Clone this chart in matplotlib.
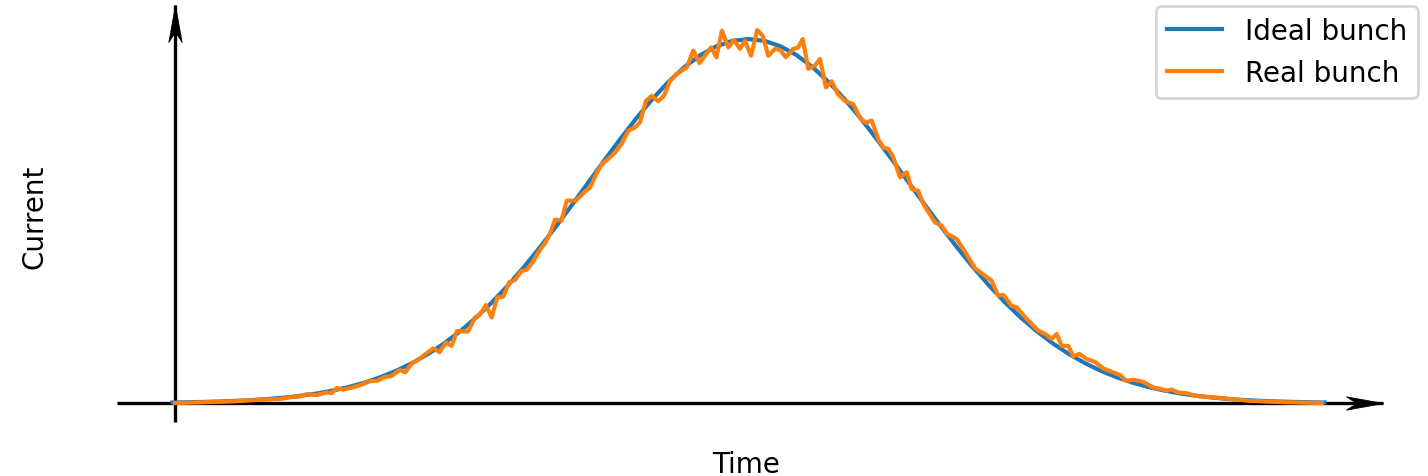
import numpy as np
import matplotlib
matplotlib.use("Agg")
import matplotlib.pyplot as plt
from matplotlib.path import Path

# ---------- data (time in units of sigma, current normalised to peak) ----------
t_ideal = [-3.6, -3.5, -3.4, -3.3, -3.2, -3.1, -3.0, -2.9, -2.8, -2.7, -2.6, -2.5,
           -2.4, -2.3, -2.2, -2.1, -2.0, -1.9, -1.8, -1.7, -1.6, -1.5, -1.4, -1.3,
           -1.2, -1.1, -1.0, -0.9, -0.8, -0.7, -0.6, -0.5, -0.4, -0.3, -0.2, -0.1,
           0.0,
           0.1, 0.2, 0.3, 0.4, 0.5, 0.6, 0.7, 0.8, 0.9, 1.0, 1.1, 1.2,
           1.3, 1.4, 1.5, 1.6, 1.7, 1.8, 1.9, 2.0, 2.1, 2.2, 2.3, 2.4,
           2.5, 2.6, 2.7, 2.8, 2.9, 3.0, 3.1, 3.2, 3.3, 3.4, 3.5, 3.6]
i_ideal = [0.0015, 0.0022, 0.0031, 0.0043, 0.0060, 0.0082, 0.0111, 0.0149, 0.0198,
           0.0261, 0.0341, 0.0439, 0.0561, 0.0710, 0.0889, 0.1103, 0.1353, 0.1645,
           0.1979, 0.2357, 0.2780, 0.3247, 0.3753, 0.4296, 0.4868, 0.5461, 0.6065,
           0.6670, 0.7261, 0.7827, 0.8353, 0.8825, 0.9231, 0.9560, 0.9802, 0.9950,
           1.0000,
           0.9950, 0.9802, 0.9560, 0.9231, 0.8825, 0.8353, 0.7827, 0.7261, 0.6670,
           0.6065, 0.5461, 0.4868, 0.4296, 0.3753, 0.3247, 0.2780, 0.2357, 0.1979,
           0.1645, 0.1353, 0.1103, 0.0889, 0.0710, 0.0561, 0.0439, 0.0341, 0.0261,
           0.0198, 0.0149, 0.0111, 0.0082, 0.0060, 0.0043, 0.0031, 0.0022, 0.0015]

t_real = [-3.584, -3.409, -3.197, -3.053, -2.928, -2.866, -2.803, -2.761, -2.699, -2.636,
          -2.605, -2.574, -2.533, -2.474, -2.428, -2.366, -2.320, -2.272, -2.236, -2.178,
          -2.145, -2.105, -2.064, -2.011, -1.970, -1.931, -1.891, -1.855, -1.822, -1.753,
          -1.709, -1.678, -1.641, -1.605, -1.570, -1.533, -1.495, -1.459, -1.418, -1.386,
          -1.345, -1.314, -1.272, -1.241, -1.209, -1.168, -1.136, -1.078, -1.022, -0.991,
          -0.953, -0.918, -0.866, -0.834, -0.793, -0.751, -0.709, -0.678, -0.641, -0.605,
          -0.564, -0.528, -0.491, -0.449, -0.386, -0.345, -0.306, -0.234, -0.200, -0.166,
          -0.126, -0.091, -0.053, -0.022, 0.016, 0.055, 0.089, 0.124, 0.166, 0.197,
          0.234, 0.280, 0.311, 0.339, 0.374, 0.416, 0.447, 0.484, 0.520, 0.558,
          0.603, 0.655, 0.697, 0.734, 0.770, 0.811, 0.843, 0.874, 0.905, 0.947,
          0.989, 1.020, 1.061, 1.093, 1.166, 1.208, 1.243, 1.301, 1.343, 1.416,
          1.520, 1.561, 1.593, 1.645, 1.676, 1.739, 1.811, 1.853, 1.895, 1.926,
          1.958, 1.999, 2.030, 2.068, 2.114, 2.166, 2.218, 2.280, 2.322, 2.359,
          2.405, 2.468, 2.530, 2.583, 2.614, 2.645, 2.686, 2.739, 2.791, 2.864,
          2.926, 3.030, 3.134, 3.239, 3.364, 3.583]
i_real = [0.000, 0.002, 0.005, 0.009, 0.011, 0.016, 0.018, 0.024, 0.022, 0.029,
          0.027, 0.041, 0.037, 0.043, 0.049, 0.060, 0.061, 0.072, 0.073, 0.091,
          0.084, 0.109, 0.119, 0.137, 0.150, 0.140, 0.166, 0.157, 0.198, 0.196,
          0.235, 0.243, 0.269, 0.235, 0.290, 0.292, 0.332, 0.338, 0.363, 0.366,
          0.389, 0.414, 0.439, 0.464, 0.504, 0.501, 0.556, 0.556, 0.581, 0.591,
          0.628, 0.655, 0.675, 0.688, 0.712, 0.748, 0.757, 0.771, 0.830, 0.844,
          0.829, 0.844, 0.884, 0.904, 0.922, 0.968, 0.934, 0.977, 0.950, 1.023,
          0.977, 0.997, 0.973, 0.995, 0.954, 1.025, 1.009, 0.954, 0.973, 0.970,
          0.950, 0.973, 0.977, 1.000, 0.918, 0.927, 0.945, 0.867, 0.884, 0.849,
          0.830, 0.821, 0.783, 0.770, 0.776, 0.725, 0.702, 0.698, 0.675, 0.620,
          0.634, 0.588, 0.583, 0.547, 0.496, 0.487, 0.464, 0.451, 0.423, 0.370,
          0.336, 0.295, 0.297, 0.267, 0.263, 0.231, 0.199, 0.190, 0.176, 0.190,
          0.157, 0.157, 0.128, 0.135, 0.121, 0.113, 0.095, 0.084, 0.077, 0.061,
          0.064, 0.058, 0.043, 0.038, 0.034, 0.037, 0.029, 0.027, 0.020, 0.017,
          0.015, 0.010, 0.006, 0.004, 0.002, 0.000]

# 坐标轴箭头的起止（数据坐标）
T0 = -3.584
X_START, X_TIP = -3.947, 3.966
Y_START, Y_TIP = -0.052, 1.093

fig = plt.figure(figsize=(7.14, 2.385), dpi=200)
ax = fig.add_axes([0, 0, 1, 1])
ax.set_xlim(-4.678, 4.247)
ax.set_ylim(-0.2005, 1.110)
ax.axis("off")

# 坐标轴线 + 凹尾箭头
ax.plot([X_START, X_TIP], [0, 0], color="black", lw=1.2, solid_capstyle="butt", zorder=1)
ax.plot([T0, T0], [Y_START, Y_TIP], color="black", lw=1.2, solid_capstyle="butt", zorder=1)

codes = [Path.MOVETO, Path.LINETO, Path.LINETO, Path.LINETO, Path.CLOSEPOLY]
head_right = Path([(0, 0), (-1, 0.18), (-0.72, 0), (-1, -0.18), (0, 0)], codes)
head_up = Path([(0, 0), (0.18, -1), (0, -0.72), (-0.18, -1), (0, 0)], codes)
ax.plot([X_TIP], [0], marker=head_right, markersize=26.6, color="black", mew=0.3, zorder=4)
ax.plot([T0], [Y_TIP], marker=head_up, markersize=26.6, color="black", mew=0.3, zorder=4)

ax.plot(t_ideal, i_ideal, color="#1f77b4", lw=1.5, label="Ideal bunch", zorder=2)
ax.plot(t_real, i_real, color="#ff7f0e", lw=1.5, label="Real bunch", zorder=3)

fig.text(746.3 / 1428, 1 - 473.3 / 477, "Time", ha="center", va="baseline", fontsize=10)
fig.text(42 / 1428, 1 - 216.5 / 477, "Current", ha="center", va="baseline",
         rotation=90, rotation_mode="anchor", fontsize=10)

ax.legend(loc="upper right", bbox_to_anchor=(1418 / 1428, 1 - 7 / 477),
          bbox_transform=fig.transFigure, borderaxespad=0, fontsize=10)

fig.savefig("out.png", dpi=200)
